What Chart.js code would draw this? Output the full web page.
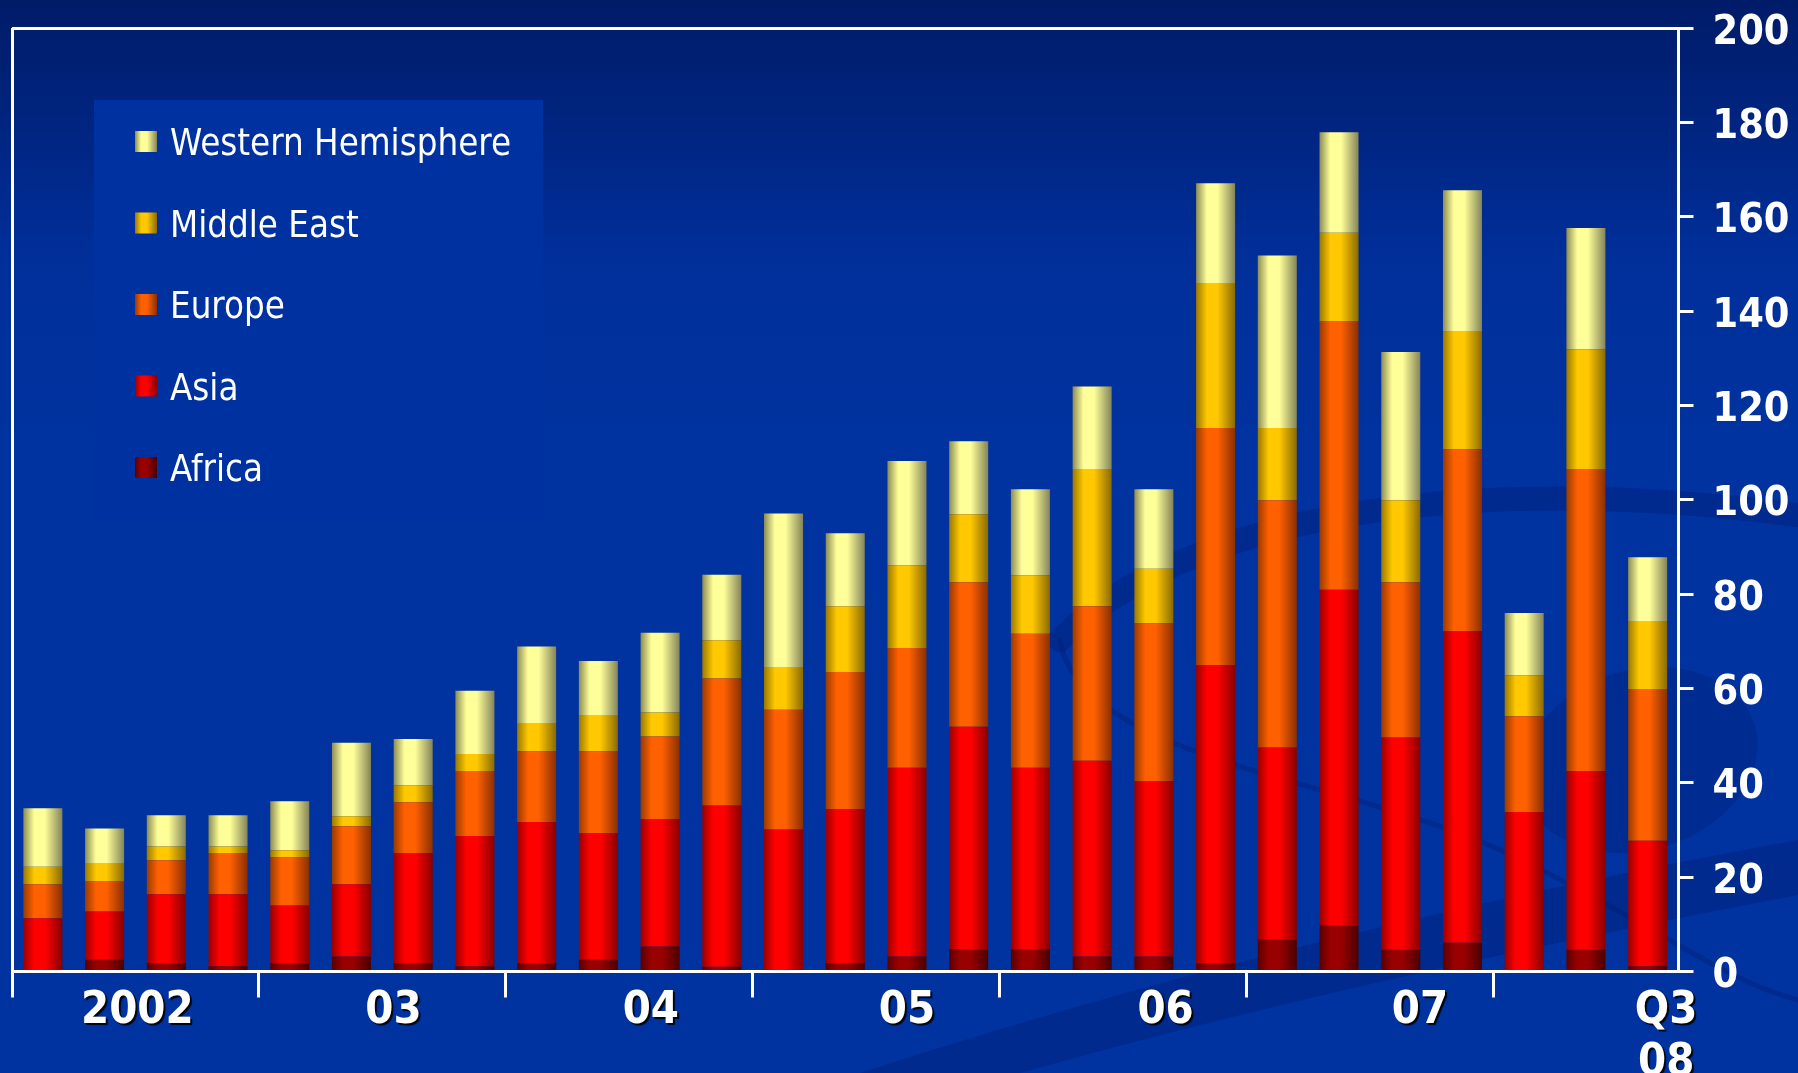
<!DOCTYPE html>
<html>
<head>
<meta charset="utf-8">
<script src="https://cdn.jsdelivr.net/npm/chart.js@4.4.1/dist/chart.umd.min.js"></script>
<style>
  html, body { margin: 0; padding: 0; background: #0033a0; overflow: hidden; }
  canvas { display: block; }
</style>
</head>
<body>
<canvas id="c" width="1798" height="1073"></canvas>
<script>
// ---- data (billions) ----
const quarters = [
  '2002Q1','2002Q2','2002Q3','2002Q4',
  '2003Q1','2003Q2','2003Q3','2003Q4',
  '2004Q1','2004Q2','2004Q3','2004Q4',
  '2005Q1','2005Q2','2005Q3','2005Q4',
  '2006Q1','2006Q2','2006Q3','2006Q4',
  '2007Q1','2007Q2','2007Q3','2007Q4',
  '2008Q1','2008Q2','2008Q3'
];
const africa = [0, 2.5, 1.8, 1.1, 1.8, 3.2, 1.8, 1.1, 1.8, 2.5, 5.3, 1.0, 0, 1.8, 3.2, 4.7, 4.7, 3.2, 3.2, 1.7, 6.8, 9.8, 4.6, 6.1, 0, 4.6, 1.1];
const asia = [11.3, 10.2, 14.6, 15.3, 12.2, 15.3, 23.3, 27.6, 29.9, 26.8, 27.0, 34.2, 30.1, 32.6, 40.0, 47.2, 38.5, 41.5, 37.2, 63.2, 40.7, 71.1, 45.0, 66.1, 33.8, 37.9, 26.6];
const europe = [7.2, 6.4, 7.2, 8.7, 10.2, 12.3, 10.8, 13.8, 15.0, 17.4, 17.5, 26.9, 25.4, 29.1, 25.4, 30.6, 28.4, 32.7, 33.4, 50.3, 52.4, 56.9, 32.9, 38.5, 20.3, 63.9, 32.2];
const middleEast = [3.7, 3.9, 2.9, 1.4, 1.5, 2.1, 3.6, 3.6, 6.0, 7.5, 5.1, 8.1, 8.9, 13.9, 17.5, 14.4, 12.4, 29.1, 11.6, 30.6, 15.3, 18.8, 17.4, 24.9, 8.7, 25.5, 14.4];
const westernHemisphere = [12.4, 7.3, 6.6, 6.6, 10.4, 15.6, 9.8, 13.4, 16.2, 11.6, 16.9, 13.9, 32.7, 15.5, 22.1, 15.5, 18.2, 17.5, 16.8, 21.3, 36.6, 21.3, 31.4, 30.0, 13.2, 25.7, 13.5];
const seriesNames = ['Africa', 'Asia', 'Europe', 'Middle East', 'Western Hemisphere'];
const yTicks = { min: 0, max: 200, step: 20 };
const yearLabels = ['2002', '03', '04', '05', '06', '07', ['Q3', '08']];
// where each year label sits, in quarter-index units (as placed in the original)
const yearLabelAt = [1.53, 5.68, 9.85, 14.0, 18.19, 22.31, 26.3];

// ---- styling ----
const COND = '"DejaVu Sans Condensed", "DejaVu Sans", sans-serif';
const BAR_FRAC = 0.632;
const palette = {
  'Africa':             { mid: '#990000', edgeL: '#5a0000', edgeR: '#4a0000' },
  'Asia':               { mid: '#ff0000', edgeL: '#9a0000', edgeR: '#880000' },
  'Europe':             { mid: '#ff6000', edgeL: '#9a3a00', edgeR: '#8a3000' },
  'Middle East':        { mid: '#ffc800', edgeL: '#9a7800', edgeR: '#8a6a00' },
  'Western Hemisphere': { mid: '#ffff99', edgeL: '#8c8c55', edgeR: '#84845a' }
};

function cylGrad(c, x0, x1, p) {
  const g = c.createLinearGradient(x0, 0, x1, 0);
  g.addColorStop(0, p.edgeL);
  g.addColorStop(0.28, p.mid);
  g.addColorStop(0.55, p.mid);
  g.addColorStop(1, p.edgeR);
  return g;
}

function barFill(name) {
  const p = palette[name];
  return (ctx) => {
    const chart = ctx.chart;
    if (ctx.type !== 'data' || !chart.chartArea) return p.mid;
    const xs = chart.scales.x;
    const cx = xs.getPixelForValue(ctx.dataIndex);
    const w = xs.width / quarters.length * BAR_FRAC;
    return cylGrad(chart.ctx, cx - w / 2, cx + w / 2, p);
  };
}

const seriesData = [africa, asia, europe, middleEast, westernHemisphere];
const datasets = seriesNames.map((name, i) => ({
  label: name,
  data: seriesData[i],
  backgroundColor: barFill(name),
  borderWidth: 0,
  barPercentage: BAR_FRAC,
  categoryPercentage: 1.0
}));

// background, legend box and decorative swooshes
const backdrop = {
  id: 'backdrop',
  beforeDraw(chart) {
    const c = chart.ctx, W = chart.width, H = chart.height;
    c.save();
    const g = c.createLinearGradient(0, 0, 0, H);
    g.addColorStop(0, '#001b68');
    g.addColorStop(0.24, '#002f9a');
    g.addColorStop(0.42, '#0033a0');
    g.addColorStop(1, '#0033a0');
    c.fillStyle = g;
    c.fillRect(0, 0, W, H);

    // faint decorative swooshes
    c.strokeStyle = 'rgba(0, 25, 110, 0.35)';
    c.lineCap = 'round';
    c.lineWidth = 24;
    c.beginPath();
    c.moveTo(1060, 640);
    c.bezierCurveTo(1180, 520, 1450, 470, 1798, 515);
    c.stroke();
    c.lineWidth = 5;
    c.beginPath();
    c.moveTo(1060, 640);
    c.bezierCurveTo(1080, 760, 1350, 780, 1500, 850);
    c.bezierCurveTo(1650, 920, 1720, 980, 1798, 1000);
    c.stroke();
    c.fillStyle = 'rgba(0, 25, 110, 0.3)';
    c.beginPath();
    c.ellipse(1640, 760, 120, 90, -0.3, 0, Math.PI * 2);
    c.fill();
    c.fillStyle = 'rgba(0, 25, 110, 0.35)';
    c.beginPath();
    c.moveTo(860, 1073);
    c.quadraticCurveTo(1300, 930, 1798, 840);
    c.lineTo(1798, 895);
    c.quadraticCurveTo(1350, 980, 1020, 1073);
    c.closePath();
    c.fill();

    // legend panel
    c.fillStyle = '#0031a0';
    c.fillRect(94, 100, 449, 420);
    c.restore();

    // shadow for year labels
    const s = chart.scales.x2;
    if (s && !s._shadowed) {
      const orig = s.drawLabels.bind(s);
      s.drawLabels = (area) => {
        c.save();
        c.shadowColor = 'rgba(0,0,0,0.9)';
        c.shadowOffsetX = 2; c.shadowOffsetY = 2; c.shadowBlur = 1;
        orig(area);
        c.restore();
      };
      s._shadowed = true;
    }
  }
};

const boxLegend = {
  id: 'boxLegend',
  afterDatasetsDraw(chart) {
    const c = chart.ctx;
    const items = chart.data.datasets.map(d => d.label).reverse();
    c.save();
    c.font = '38px ' + COND;
    const ref = c.measureText('Western Hemisphere').width;
    const squeeze = Math.min(1, 341 / ref);
    items.forEach((name, i) => {
      const cy = 141.5 + i * 81.5;
      const p = palette[name];
      c.fillStyle = cylGrad(c, 135, 157, p);
      c.fillRect(135, cy - 10.5, 22, 21);
      c.fillStyle = '#ffffff';
      c.textBaseline = 'alphabetic';
      c.textAlign = 'left';
      const w = c.measureText(name).width;
      c.fillText(name, 170, cy + 13.5, w * squeeze);
    });
    c.restore();
  }
};

new Chart(document.getElementById('c'), {
  type: 'bar',
  data: { labels: quarters, datasets },
  options: {
    responsive: false,
    animation: false,
    devicePixelRatio: 1,
    layout: { padding: { top: 28, left: 12, right: 0, bottom: 0 } },
    plugins: { legend: { display: false }, tooltip: { enabled: false } },
    scales: {
      x: {
        stacked: true,
        position: 'bottom',
        weight: 0,
        offset: true,
        grid: {
          offset: true,
          drawOnChartArea: true,
          color: (c) => c.index === 0 ? '#ffffff' : 'rgba(0,0,0,0)',
          tickColor: (c) => c.index % 4 === 0 ? '#ffffff' : 'rgba(0,0,0,0)',
          lineWidth: 3,
          tickWidth: 3,
          tickLength: 26
        },
        border: { color: '#ffffff', width: 3, z: 1 },
        ticks: { display: false },
        afterFit: (s) => { s.height = 0; s.paddingLeft = 0; s.paddingRight = 0; }
      },
      x2: {
        type: 'linear',
        position: 'bottom',
        weight: 1,
        offset: false,
        min: -0.5,
        max: quarters.length - 0.5,
        grid: { display: false },
        border: { display: false },
        afterBuildTicks: (s) => { s.ticks = yearLabelAt.map(v => ({ value: v })); },
        ticks: {
          autoSkip: false,
          maxRotation: 0,
          padding: 6,
          color: '#ffffff',
          font: { family: COND, size: 45, weight: 'bold', lineHeight: 1.16 },
          callback: (v, i) => yearLabels[i]
        },
        afterFit: (s) => { s.height = 101.5; s.paddingLeft = 0; s.paddingRight = 0; }
      },
      y: {
        stacked: true,
        position: 'right',
        min: yTicks.min,
        max: yTicks.max,
        ticks: {
          stepSize: yTicks.step,
          color: '#ffffff',
          padding: 19,
          labelOffset: 5,
          font: { family: COND, size: 41, weight: 'bold' }
        },
        grid: {
          drawOnChartArea: true,
          color: (c) => (c.tick && c.tick.value === yTicks.max) ? '#ffffff' : 'rgba(0,0,0,0)',
          tickColor: '#ffffff',
          lineWidth: 3,
          tickWidth: 3,
          tickLength: 15
        },
        border: { color: '#ffffff', width: 3, z: 1 },
        afterFit: (s) => { s.width = 119.5; s.paddingTop = 0; s.paddingBottom = 0; }
      }
    }
  },
  plugins: [backdrop, boxLegend]
});
</script>
</body>
</html>
